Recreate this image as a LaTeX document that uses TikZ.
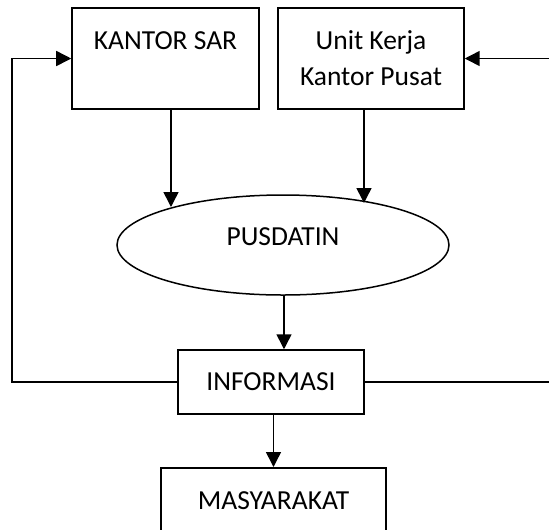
\documentclass[tikz,border=0pt]{standalone}
\usepackage{fontspec}
\setmainfont{Carlito}
\usetikzlibrary{arrows.meta,shapes.geometric}

\begin{document}
\begin{tikzpicture}[x=0.4pt, y=-0.4pt, line width=0.6pt,
  box/.style={draw, rectangle, inner sep=0pt, align=center, font=\fontsize{11}{14.5}\selectfont},
  arr/.style={-{Triangle[length=6pt,width=6pt]}}]
\useasboundingbox (0,0) rectangle (549,529);
% sources on top
\node[box, minimum width=74.8pt, minimum height=40.4pt] (sar) at (165.5,58.5) {KANTOR SAR\\\mbox{}};
\node[box, minimum width=74.4pt, minimum height=40.4pt] (unit) at (371,58.5) {Unit Kerja\\Kantor Pusat};
% data centre
\node[draw, ellipse, inner sep=0pt, minimum width=132.8pt, minimum height=40pt, text depth=6.4pt,
  font=\fontsize{11}{14}\selectfont] (pusdatin) at (283,245) {PUSDATIN};
\coordinate (inSar) at (171,207);
\coordinate (inUnit) at (364,203);
\draw[arr] (sar.south -| inSar) -- (inSar);
\draw[arr] (unit.south -| inUnit) -- (inUnit);
% output
\node[box, minimum width=74.4pt, minimum height=25.6pt] (info) at (271,382) {INFORMASI};
\node[box, anchor=north, minimum width=90pt, minimum height=26.4pt] (masy) at (273.5,467) {MASYARAKAT};
\draw[arr] (pusdatin.south -| 284,0) -- (info.north -| 284,0);
\draw[arr] (info.south -| masy.north) -- (masy.north);
% feedback loops
\draw[arr] (info.west) -- (12,382) |- (sar.west);
\draw[arr] (info.east) -- (553,382) |- (unit.east);
\end{tikzpicture}
\end{document}
